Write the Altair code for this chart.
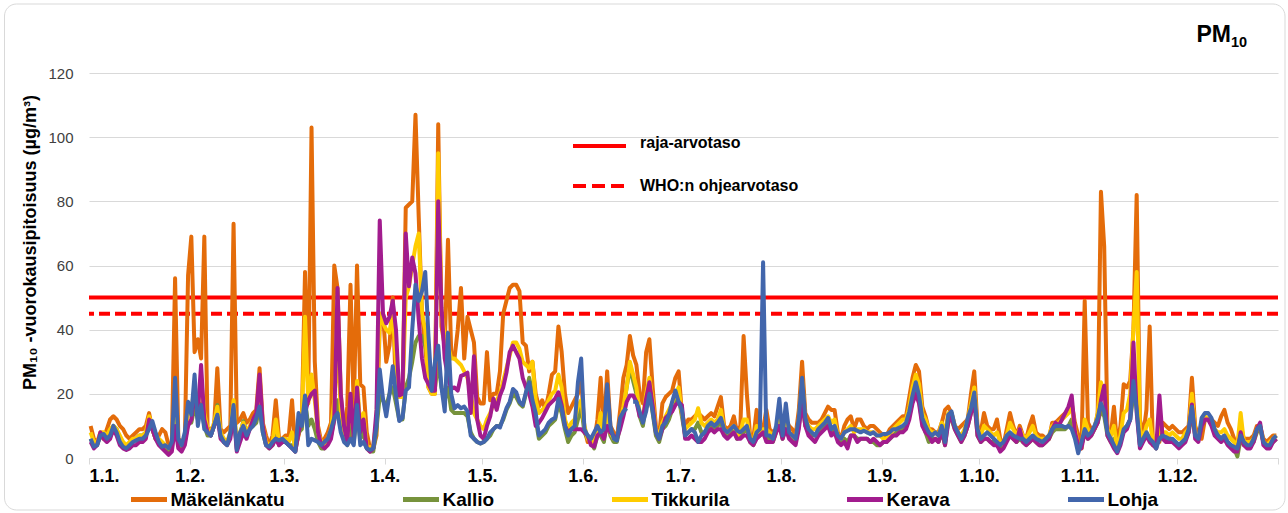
import altair as alt
import pandas as pd

# Daily mean PM10 concentrations (µg/m³), one value per day of a leap year.
STATIONS = ["Mäkelänkatu", "Kallio", "Tikkurila", "Kerava", "Lohja"]
COLORS = ["#E46C0A", "#77933C", "#FFCC00", "#A21C8E", "#4266AC"]

MAKELANKATU = [
    10, 6, 5, 7, 6, 9, 12, 13, 12, 10, 9, 7, 6, 7, 8, 9, 9, 10, 14, 9, 6, 7, 9, 8, 4, 5, 56, 6, 5, 6, 57,
    69, 33, 37, 31, 69, 9, 9, 10, 28, 9, 8, 9, 10, 73, 11, 12, 14, 11, 12, 14, 15, 28, 11, 7, 4, 7, 18, 6, 6,
    7, 7, 18, 3, 7, 12, 58, 20, 103, 30, 10, 5, 6, 8, 11, 60, 53, 20, 7, 16, 54, 15, 60, 23, 22, 8, 3, 3, 7, 42, 45,
    30, 35, 50, 20, 19, 19, 78, 79, 80, 107, 75, 45, 35, 22, 20, 20, 104, 41, 35, 68, 33, 31, 40, 53, 31, 44, 40, 36, 19, 17,
    17, 33, 18, 20, 20, 27, 45, 49, 53, 54, 54, 52, 36, 35, 27, 30, 20, 16, 18, 15, 20, 26, 27, 41, 33, 20, 14, 16, 18, 20, 25,
    9, 5, 6, 5, 12, 25, 8, 27, 10, 8, 6, 15, 25, 29, 38, 32, 29, 20, 17, 33, 37, 22, 10, 7, 17, 19, 20, 21, 25, 27,
    14, 10, 12, 12, 13, 14, 13, 12, 13, 14, 13, 16, 19, 10, 9, 10, 13, 8, 10, 38, 20, 7, 6, 15, 8, 9, 15, 9, 8, 9, 10,
    11, 12, 10, 9, 7, 15, 30, 14, 12, 11, 11, 11, 12, 14, 16, 15, 15, 8, 6, 10, 12, 13, 9, 12, 12, 10, 9, 10, 10, 9, 8,
    7, 7, 9, 10, 11, 12, 13, 13, 19, 25, 29, 27, 16, 13, 9, 9, 8, 8, 11, 15, 16, 14, 10, 9, 10, 11, 12, 20, 27, 10,
    8, 14, 10, 9, 9, 12, 6, 4, 9, 14, 10, 7, 10, 7, 6, 10, 13, 8, 7, 7, 6, 6, 11, 11, 12, 13, 14, 15, 17, 11, 7,
    3, 49, 11, 9, 9, 14, 83, 66, 9, 7, 16, 4, 10, 23, 22, 24, 40, 82, 12, 7, 15, 41, 4, 5, 5, 11, 10, 9, 10, 9,
    8, 8, 9, 10, 25, 10, 7, 6, 12, 12, 12, 11, 10, 13, 15, 11, 9, 6, 4, 10, 6, 6, 6, 7, 10, 10, 6, 5, 6, 7, 7,
]

KALLIO = [
    6, 4, 4, 7, 7, 6, 8, 10, 9, 6, 4, 3, 4, 5, 6, 7, 7, 8, 11, 9, 6, 5, 4, 3, 2, 3, 12, 4, 3, 5, 11,
    11, 16, 12, 17, 10, 7, 7, 10, 16.5, 7, 5, 4, 7, 15, 3, 7, 11.5, 8, 9, 10, 11, 16, 8, 4, 3, 4, 8, 4, 5,
    5, 4, 4, 2, 8, 9, 18, 10, 12, 9, 5, 3, 3, 5, 7, 12, 18, 10, 6, 4, 10, 5, 14, 6, 8, 3, 2, 2, 9, 19.5, 18,
    16, 20, 22, 17, 12, 12, 22, 25, 30, 36, 38, 38, 35, 30, 22, 22, 30, 22, 18, 22, 15, 14, 14, 14, 14, 13, 8, 6, 5, 4.5,
    5, 6, 7, 9, 10, 10, 12, 15, 17, 20, 19, 17, 16, 20, 25, 20, 12, 6, 7, 8, 10, 11, 12, 17, 14, 9, 5, 7, 8, 12, 16,
    8, 6, 5, 3, 7, 7, 5, 12, 7, 5, 5, 10, 15, 22, 28, 24, 20, 13, 10, 17, 21, 14, 7, 5, 9, 10, 12, 15, 18, 19,
    13, 7, 8, 9, 9, 11, 8, 8, 9, 10, 9, 10, 11, 8, 7, 8, 9, 6, 7, 8, 9, 5, 4, 7, 7, 8, 6, 6, 5, 8, 11,
    6, 10, 7, 6, 5, 10, 18, 10, 8, 7, 7, 8, 9, 10, 11, 8, 9, 6, 5, 6, 5, 7, 7, 6, 6, 6, 6, 5, 5, 4, 4,
    5, 5, 6, 7, 8, 9, 9, 10, 13, 18, 21, 18, 11, 8, 5, 6, 6, 5, 8, 4, 12, 12, 9, 7, 5, 7, 10, 14, 19, 7,
    5, 6, 6, 5, 5, 4, 3, 4, 6, 7, 6, 5, 6, 5, 4, 5, 6, 5, 4, 4, 5, 6, 8, 9, 9, 9, 9, 10, 12, 7, 3,
    4, 8, 6, 7, 9, 11, 15, 13, 7, 5, 6, 3, 5, 9, 10, 12, 20, 17, 4, 6, 8, 6, 5, 3, 8, 6, 6, 5, 5, 5,
    4, 5, 6, 8, 14, 7, 6, 10, 12, 12, 11, 8, 7, 6, 7, 5, 4, 3, 0.5, 6, 4, 4, 4, 5, 8, 9, 5, 4, 4, 5, 6,
]

TIKKURILA = [
    8, 5, 5, 8, 8, 7, 9, 10, 9, 7, 5, 4, 5, 6, 6, 7, 7, 8, 13, 10, 7, 6, 5, 4, 3, 4, 18, 5, 4, 6, 14,
    15, 22, 16, 25, 14, 9, 8, 11, 16, 8, 6, 5, 8, 18, 4, 8, 11, 8, 10, 12, 13, 22, 10, 5, 4, 5, 12, 5, 6,
    6, 5, 8, 3, 9, 11, 44, 17, 26, 18, 8, 5, 4, 6, 9, 18, 35, 15, 8, 6, 18, 7, 24, 10, 14, 4, 3, 4, 12, 45, 42,
    40, 39, 45, 30, 19, 19, 50, 53.5, 60, 66, 70, 45, 40, 22, 20, 20, 95, 45, 38, 35, 31, 31, 30, 29, 27, 25, 20, 14, 12, 10,
    9, 12, 14, 17, 18, 20, 24, 28, 32, 36, 36, 34, 30, 29, 28, 30, 18, 14, 15, 16, 18, 20, 21, 26, 22, 12, 9, 11, 12, 16, 18,
    10, 6, 5, 5, 8, 14, 7, 16, 8, 6, 6, 11, 16, 22, 30, 26, 22, 14, 12, 20, 25, 18, 9, 7, 11, 13, 15, 17, 20, 22,
    14, 9, 10, 11, 12, 15.5, 11, 10, 11, 12, 11, 12, 15, 9, 8, 9, 10, 7, 8, 12, 12, 6, 5, 10, 8, 9, 9, 8, 7, 9, 12,
    9, 12, 8, 7, 6, 12, 24, 12, 10, 9, 9, 10, 11, 12, 13, 11, 12, 7, 6, 8, 9, 10, 8, 9, 9, 9, 8, 8, 8, 7, 7,
    6, 6, 7, 9, 10, 11, 12, 12, 16, 22, 26, 23, 14, 12, 9, 8, 8, 7, 11, 8, 14, 14, 10, 8, 7, 9, 12, 17, 22, 9,
    7, 10, 9, 8, 7, 8, 5, 4, 7, 11, 9, 7, 9, 7, 6, 8, 10, 7, 6, 6, 6, 7, 10, 11, 11, 12, 13, 14, 16, 9, 4,
    3, 12, 9, 8, 9, 14, 23.6, 20, 9, 7, 10, 3, 7, 14, 15, 20, 40, 58, 9, 6, 10, 12, 5, 4, 10, 8, 8, 7, 8, 7,
    6, 6, 8, 9, 20, 8, 6, 11, 13, 12, 11, 9, 8, 8, 9, 7, 6, 5, 4, 14, 5, 5, 5, 6, 9, 10, 5, 4, 5, 6, 7,
]

KERAVA = [
    5, 3, 4, 8, 6, 5, 6, 9, 7, 4, 3, 2.5, 3, 4, 4, 5, 5, 6, 12, 9, 6, 4, 3, 2, 1, 2, 10, 3, 2, 4, 10,
    12, 20, 14, 29, 12, 8, 7, 10, 13, 6, 5, 4, 6, 14, 2, 5, 8, 6, 9, 12, 14, 26, 10, 4, 3, 4, 6, 4, 5,
    5, 4, 3, 2, 8, 12, 14, 18, 20, 21, 8, 4, 3, 4, 6, 12, 53, 20, 10, 5, 20, 6, 22, 8, 12, 3, 2, 3, 15, 74, 45,
    42, 44, 49, 40, 19.5, 20, 70, 53.5, 62.5, 57.5, 43, 31, 25, 23, 21, 21, 80, 47, 31, 25, 21.5, 22, 21, 25.6, 26, 26.6, 14, 31.7, 12, 7,
    6, 10, 13, 18.5, 15, 19.5, 22, 26.6, 33, 35, 33, 31, 25, 22, 20, 16, 10, 11, 12.5, 14.5, 16.5, 17.5, 18.5, 20.5, 16.5, 10, 8, 9, 9, 9, 9,
    8, 7, 4, 3.5, 7, 8, 6, 10, 8, 7, 6, 9, 13, 17.5, 19.5, 19.5, 17.5, 13, 12.5, 18.5, 23.6, 16.5, 8, 6, 9, 12.5, 13.5, 14.5, 16.5, 17.5,
    16.5, 6, 6, 7, 6, 5, 5, 6, 8, 9, 8, 9, 9, 7, 6, 7, 8, 6, 6, 7, 7, 5, 4, 6, 7, 8, 5, 5, 5, 8, 10,
    6, 9, 6, 5, 4, 9, 18, 10, 7, 6, 5, 7, 8, 9, 10, 7, 8, 5, 4, 5, 3, 7, 7, 5, 6, 6, 6, 5, 6, 5, 4,
    5, 5, 6, 7, 7, 8, 8, 9, 12, 17, 20, 17, 10, 8, 7, 5, 6, 5, 9, 4, 11, 13, 9, 7, 5, 7, 10, 14, 18, 7,
    5, 6, 6, 5, 4, 4, 2, 3, 5, 7, 6, 5, 9, 5, 4, 5, 6, 5, 4, 4, 5, 6, 9, 11, 10, 12, 14, 16, 19.5, 8, 4,
    3, 8, 6, 7, 9, 11, 18, 22.5, 7, 5, 3, 1.5, 4, 8, 9, 12, 36, 14, 3, 5, 7, 5, 4, 3, 19.5, 6, 5, 5, 5, 4,
    3, 4, 5, 8, 16.7, 6, 5, 10, 12, 12, 10, 7, 6, 5, 6, 4, 3, 2, 2, 8, 4, 3, 3, 5, 9, 11, 4, 3, 3, 5, 6,
]

LOHJA = [
    6, 3.5, 4, 7, 7.5, 6, 7, 10, 8, 5, 3.5, 3, 4, 5, 5.5, 6, 6, 7, 9, 11.5, 8, 5, 3.5, 4, 3, 5, 25, 6, 4, 8, 17.5,
    13.5, 26, 10, 16.5, 9, 8, 7, 10, 13.5, 7, 5, 4, 8, 16.5, 2.5, 8, 10, 7, 9, 10, 12.5, 16, 8, 4, 3.5, 5, 6, 5.5, 6,
    5, 4, 3, 2, 14, 10, 19.5, 4, 6, 5.5, 5, 4, 5, 6, 9, 12.5, 14, 8, 5, 4, 6, 4, 16.5, 4, 5, 3, 2.5, 3, 10, 27.6, 18.5,
    13, 20, 28.6, 19.5, 11.5, 12.5, 21, 22, 40, 54, 49, 52, 58, 38, 21, 30, 35, 22, 14.5, 39, 20, 15.5, 16.5, 15.5, 16, 14.5, 7, 6, 5, 4.5,
    5, 6, 8, 9, 10, 9.5, 12.5, 15.5, 17.5, 21.5, 20.5, 17.5, 16.5, 20.5, 23.6, 18, 14, 7, 8, 9, 11, 12, 12.5, 18.5, 15.5, 10, 7, 9, 10, 23.6, 31,
    9, 7, 6, 8, 10, 8, 9, 23, 10, 6, 5.5, 12.5, 14.5, 15.5, None, 17.5, 17.5, 14.5, 11, 14.5, 20, 14.5, 8, 6, 10, 11, 13.5, 17.5, 21, 17.5,
    15, 7, 8, 9, 8, 5, 7, 8, 10, 11, 10, 11, 12.5, 9, 8, 9, 10, 8.5, 8, 9, 10, 6, 5, 8, 9, 61, 7, 7, 6, 10, 18.5,
    7, 17, 8, 7, 6, 12.5, 25, 12.5, 9, 8, 7, 9, 10, 11, 12.5, 9, 10, 7, 6, 8, 8.5, 9, 9, 8.5, 8, 8.5, 8, 7.5, 8, 7, 7,
    7.5, 7.5, 8, 9, 9, 9.5, 10, 11, 14.5, 19.5, 23.6, 19.5, 12.5, 10, 8, 7, 8, 7, 10, 5, 13.5, 14.5, 10, 8, 6, 8, 12.5, 15.5, 20.4, 9,
    6, 7, 8, 7, 6, 5, 4, 5, 7, 8, 7, 6.5, 6, 6, 5, 6, 7, 6, 5.5, 5, 6, 7, 9, 10, 10, 10, 9.5, 10, 9, 6, 1.5,
    5, 9, 7, 8, 10, 12.5, 17, 14.5, 8, 6, 4, 2, 5, 9, 10, 12, 24, 15, 4, 6, 8, 6, 5, 3, 6, 7, 6.5, 6, 6, 5,
    4, 5, 6, 9, 16, 7, 6, 12.5, 14, 14, 12.5, 9, 7, 6, 7, 5, 4, 3.5, 3, 7, 5, 4, 4, 6, 9, 10, 5, 4, 4, 6, 7,
]

SERIES = [MAKELANKATU, KALLIO, TIKKURILA, KERAVA, LOHJA]
for values in SERIES:
    assert len(values) == 366

# Reference levels (µg/m³)
LEVEL_NAMES = ["raja-arvotaso", "WHO:n ohjearvotaso"]
LEVEL_VALUES = [50, 45]

Y_TICKS = [0, 20, 40, 60, 80, 100, 120]
FONT = "Liberation Sans"

days = pd.date_range("2020-01-01 12:00", periods=366, freq="D")
df = pd.concat(
    [pd.DataFrame({"pvm": days, "asema": name, "pm10": vals}) for name, vals in zip(STATIONS, SERIES)],
    ignore_index=True,
)
levels = pd.DataFrame({"taso": LEVEL_NAMES, "pm10": LEVEL_VALUES})

month_starts = [alt.DateTime(year=2020, month=m, date=1) for m in range(1, 13)]
month_starts.append(alt.DateTime(year=2021, month=1, date=1))

x_enc = alt.X(
    "pvm:T",
    title=None,
    scale=alt.Scale(domain=[alt.DateTime(year=2020, month=1, date=1),
                            alt.DateTime(year=2021, month=1, date=1)]),
    axis=alt.Axis(
        values=month_starts,
        format="%-d.%-m.",
        labelExpr="datum.value >= datetime(2021, 0, 1) ? '' : datum.label",
        labelFont=FONT, labelFontSize=18, labelFontWeight="bold", labelColor="#000000",
        labelOverlap=False, labelPadding=3,
        domainColor="#d9d9d9", tickColor="#d9d9d9", tickSize=6,
        grid=False,
    ),
)
y_axis = alt.Axis(
    values=Y_TICKS,
    title="PM₁₀ -vuorokausipitoisuus (µg/m³)",
    titleFont=FONT, titleFontSize=18, titleFontWeight="bold", titleColor="#000000",
    titleAngle=270, titleX=-59, titleY=169, titleAlign="center", titleBaseline="middle",
    labelFont=FONT, labelFontSize=15, labelColor="#404040", labelPadding=16,
    ticks=False, domain=False,
    gridColor="#d9d9d9", gridWidth=1,
)
y_scale = alt.Scale(domain=[0, 120], nice=False)
y_enc = alt.Y("pm10:Q", scale=y_scale, axis=y_axis)

color_enc = alt.Color(
    "asema:N",
    scale=alt.Scale(domain=STATIONS, range=COLORS),
    legend=alt.Legend(
        title=None, orient="none", legendX=39.5, legendY=406, direction="horizontal",
        columns=5, gridAlign="none", columnPadding=107,
        symbolType="stroke", symbolSize=1296, symbolStrokeWidth=5,
        labelFont=FONT, labelFontSize=19, labelFontWeight="bold", labelColor="#000000",
        labelOffset=1, labelLimit=300,
    ),
)

one_row = pd.DataFrame({"k": [0]})

# Rounded frame around the whole chart (stroke only, so axes stay visible)
border = alt.Chart(one_row).mark_rect(
    fillOpacity=0, stroke="#d9d9d9", strokeWidth=1, cornerRadius=12
).encode(
    x=alt.value(-84.5), x2=alt.value(1196), y=alt.value(-69), y2=alt.value(437)
)

level_lines = alt.Chart(levels).mark_rule(color="#FF0000", strokeWidth=4).encode(
    y=y_enc,
    strokeDash=alt.StrokeDash("taso:N", scale=alt.Scale(domain=LEVEL_NAMES, range=[[1, 0], [11, 5]]),
                              legend=None),
)

lines = [
    alt.Chart(df).transform_filter(alt.datum.asema == name).mark_line(strokeWidth=4, strokeJoin="round").encode(
        x=x_enc, y=y_enc, color=color_enc
    )
    for name in STATIONS
]

# Key for the reference levels
key_solid = alt.Chart(one_row).mark_rule(color="#FF0000", strokeWidth=4).encode(
    x=alt.value(484), x2=alt.value(537), y=alt.value(73))
key_dash = alt.Chart(one_row).mark_rule(color="#FF0000", strokeWidth=4, strokeDash=[13, 6]).encode(
    x=alt.value(484), x2=alt.value(537), y=alt.value(113))
key_text_1 = alt.Chart(pd.DataFrame({"t": [LEVEL_NAMES[0]]})).mark_text(
    font=FONT, fontSize=16, fontWeight="bold", color="#000000", align="left", baseline="middle"
).encode(x=alt.value(551), y=alt.value(70), text="t:N")
key_text_2 = alt.Chart(pd.DataFrame({"t": [LEVEL_NAMES[1]]})).mark_text(
    font=FONT, fontSize=16, fontWeight="bold", color="#000000", align="left", baseline="middle"
).encode(x=alt.value(551), y=alt.value(113), text="t:N")

title_pm = alt.Chart(pd.DataFrame({"t": ["PM"]})).mark_text(
    font=FONT, fontSize=23, fontWeight="bold", color="#000000", align="left", baseline="alphabetic"
).encode(x=alt.value(1107.5), y=alt.value(-31.5), text="t:N")
title_sub = alt.Chart(pd.DataFrame({"t": ["10"]})).mark_text(
    font=FONT, fontSize=14.5, fontWeight="bold", color="#000000", align="left", baseline="alphabetic"
).encode(x=alt.value(1142), y=alt.value(-25.6), text="t:N")

chart = alt.layer(
    border, level_lines, *lines, key_solid, key_dash, key_text_1, key_text_2, title_pm, title_sub
).properties(
    width=1189, height=385,
    padding={"left": 89, "top": 73, "right": 10, "bottom": 55},
    autosize=alt.AutoSizeParams(type="none"),
    background="#ffffff",
).configure_view(stroke=None)

chart.save("out.html", embed_options={"renderer": "svg", "actions": False})
